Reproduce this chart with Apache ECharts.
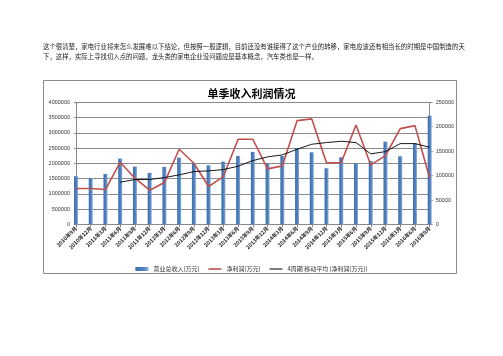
<!DOCTYPE html>
<html><head><meta charset="utf-8">
<script src="https://cdn.jsdelivr.net/npm/echarts@6/dist/echarts.min.js"></script>
<style>html,body{margin:0;padding:0;background:#fff;}#c{width:503px;height:356px;}</style>
</head><body><div id="c"></div>
<script>
var categories = ['2010年9月','2010年12月','2011年3月','2011年6月','2011年9月','2011年12月','2012年3月','2012年6月','2012年9月','2012年12月','2013年3月','2013年6月','2013年9月','2013年12月','2014年3月','2014年6月','2014年9月','2014年12月','2015年3月','2015年6月','2015年9月','2015年12月','2016年3月','2016年6月','2016年9月'];
var revenue = [1580000,1525000,1655000,2157000,1895000,1688000,1885000,2190000,2015000,1939000,2059000,2244000,2375000,2004000,2244000,2495000,2364000,1841000,2200000,2004000,2081000,2712000,2233000,2658000,3562000];
var profit = [73500,73500,71500,127400,94700,70200,85800,154000,125300,77700,98100,174400,174400,113800,119900,212500,216000,126000,126700,203700,121900,141000,196200,202300,94700];
var movingAvg = ['-','-','-',86500,92000,92000,96000,101500,108300,109700,112400,119200,130800,138300,142400,154000,164200,167600,170300,167600,144400,149200,165500,165500,158000];
var leftTicks = {min:0, max:4000000, interval:500000};
var rightTicks = {min:0, max:250000, interval:50000};
var legendNames = ['营业总收入(万元)','净利润(万元)','4周期 移动平均 (净利润(万元))'];
var titleText = '单季收入利润情况';
var introLines = ['这个很清楚，家电行业将来怎么发展难以下结论，但按照一般逻辑，目前还没有谁接得了这个产业的转移，家电应该还有相当长的时期是中国制造的天','下，这样，实际上寻找切入点的问题，龙头类的家电企业没问题应是基本概念，汽车类也是一样。'];

var chart = echarts.init(document.getElementById('c'), null, {renderer:'canvas'});
var gray = '#8a8a8a';
var cjk = '"Noto Sans CJK SC", sans-serif';
var plain = function (v) { return String(v); };
chart.setOption({
  animation:false,
  backgroundColor:'#fff',
  textStyle:{fontFamily:cjk},
  title:{text:titleText, left:'center', top:83, textStyle:{fontSize:11, fontWeight:'bold', color:'#000', fontFamily:cjk}},
  graphic:[
    {type:'rect', shape:{x:43.5, y:80.5, width:413, height:193}, style:{fill:'none', stroke:gray, lineWidth:1}, silent:true, z:-1},
    {type:'text', left:43, top:43, style:{text:introLines[0], fill:'#222', font:'6.4px "Noto Sans CJK SC"'}},
    {type:'text', left:43, top:53, style:{text:introLines[1], fill:'#222', font:'6.4px "Noto Sans CJK SC"'}}
  ],
  legend:{
    top:261, left:'center', itemGap:9, itemWidth:13, itemHeight:4,
    textStyle:{fontSize:6, color:'#333', fontFamily:cjk},
    data:[
      {name:legendNames[0], icon:'rect'},
      {name:legendNames[1], icon:'path://M0,0h13v1.6h-13z'},
      {name:legendNames[2], icon:'path://M0,0h13v1h-13z'}
    ]
  },
  grid:{left:76, right:73.3, top:102.3, bottom:131.5, containLabel:false},
  xAxis:{
    type:'category', data:categories, boundaryGap:false,
    axisLine:{lineStyle:{color:gray}},
    axisTick:{show:true, length:3, lineStyle:{color:gray}},
    axisLabel:{rotate:45, interval:0, fontSize:5.3, fontWeight:'bold', color:'#222', margin:3, fontFamily:cjk}
  },
  yAxis:[
    {type:'value', min:leftTicks.min, max:leftTicks.max, interval:leftTicks.interval,
     axisLine:{show:true, lineStyle:{color:gray}}, axisTick:{show:true, length:2, lineStyle:{color:gray}},
     splitLine:{lineStyle:{color:gray, width:1}},
     axisLabel:{fontSize:5.5, color:'#333', margin:6, formatter:plain, fontFamily:'"Liberation Sans", sans-serif'}},
    {type:'value', min:rightTicks.min, max:rightTicks.max, interval:rightTicks.interval, position:'right',
     axisLine:{show:true, lineStyle:{color:gray}}, axisTick:{show:true, length:3, lineStyle:{color:gray}},
     splitLine:{show:false},
     axisLabel:{fontSize:5.5, color:'#333', margin:6, formatter:plain, fontFamily:'"Liberation Sans", sans-serif'}}
  ],
  series:[
    {name:legendNames[0], type:'bar', data:revenue, yAxisIndex:0, barWidth:4, clip:false,
     itemStyle:{color:new echarts.graphic.LinearGradient(0,0,1,0,[{offset:0,color:'#3e6faf'},{offset:0.6,color:'#4f81bd'},{offset:1,color:'#8eb0dc'}])},
     z:2},
    {name:legendNames[1], type:'line', data:profit, yAxisIndex:1, symbol:'none', clip:false,
     lineStyle:{color:'#c0504d', width:1.6}, itemStyle:{color:'#c0504d'}, z:3},
    {name:legendNames[2], type:'line', data:movingAvg, yAxisIndex:1, symbol:'none', clip:false,
     lineStyle:{color:'#000', width:0.9}, itemStyle:{color:'#000'}, z:4}
  ]
});
</script></body></html>
